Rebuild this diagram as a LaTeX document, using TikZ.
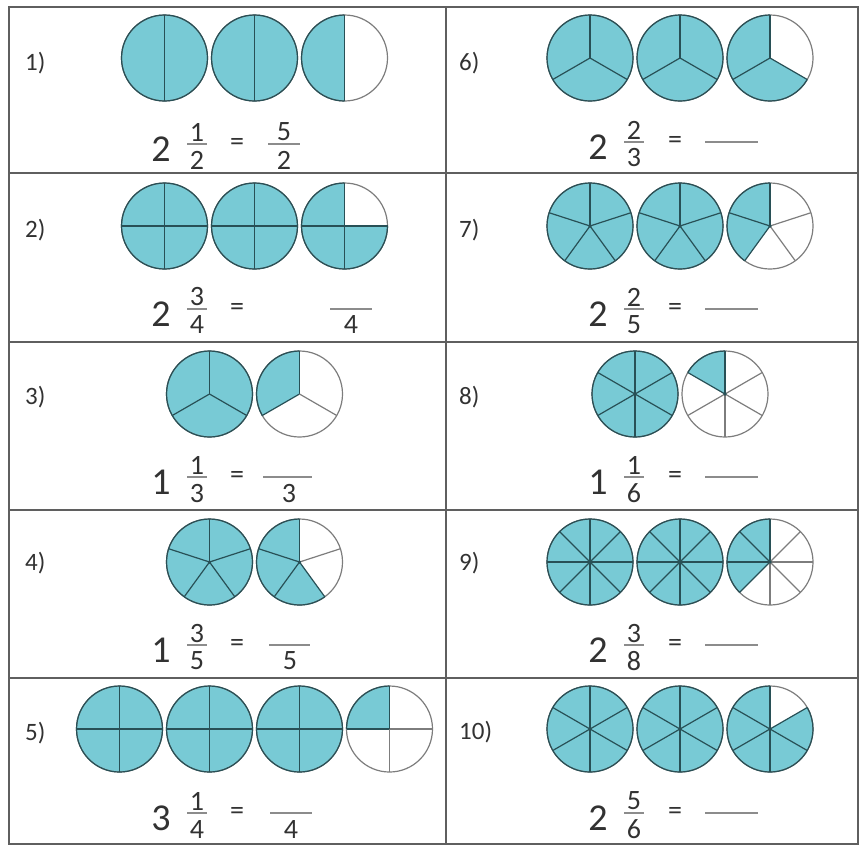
\documentclass[tikz,border=0pt]{standalone}
\usepackage{fontspec}
\setmainfont{Carlito}
\usetikzlibrary{calc}

\definecolor{piefill}{RGB}{120,202,213}
\definecolor{piedark}{RGB}{40,80,86}
\definecolor{pieline}{RGB}{125,125,125}
\definecolor{gridline}{RGB}{95,95,95}
\definecolor{txt}{RGB}{50,50,50}
\definecolor{blank}{RGB}{140,140,140}

\newcommand{\pierad}{43}
% circle at (#1,#2), cut into #3 parts, #4 of them shaded from the top, anticlockwise
\newcommand{\drawpie}[4]{%
  \pgfmathsetmacro{\pend}{90+360*#4/#3}%
  \ifnum#4=#3\relax
    \fill[piefill] (#1,#2) circle[radius=\pierad];
  \else
    \fill[piefill] (#1,#2) -- ++(90:\pierad) arc[start angle=90,end angle=\pend,radius=\pierad] -- cycle;
  \fi
  \draw[pieline, line width=1.2pt] (#1,#2) circle[radius=\pierad];
  \draw[piedark, line width=1.2pt] (#1,#2) ++(90:\pierad) arc[start angle=90,end angle=\pend,radius=\pierad];
  \pgfmathtruncatemacro{\plast}{#3-1}%
  \foreach \i in {0,...,\plast}{%
    \pgfmathsetmacro{\pang}{90+360*\i/#3}%
    \ifnum\i>#4\relax\def\pcol{pieline}\else\def\pcol{piedark}\fi
    \draw[draw=\pcol, line width=1.2pt] (#1,#2) -- ++(\pang:\pierad);
  }%
  \ifnum#3>4\relax\fill[piedark] (#1,#2) circle[radius=1.8];\fi
}

% mixed number: name, x of fraction, y of bar, whole, numerator, denominator
\newcommand{\mixnum}[6]{%
  \node[bignum] (#1-w) at (#2-36,-#3-5) {#4};
  \node[smallnum] (#1-n) at (#2,-#3+12) {#5};
  \node[smallnum] (#1-d) at (#2,-#3-16) {#6};
  \draw[fracbar] (#2-10,-#3) -- (#2+10,-#3);
}

\begin{document}
\begin{tikzpicture}[x=1pt,y=1pt,
    grid/.style={draw=gridline, line width=2pt},
    bignum/.style={font=\fontsize{38}{38}\selectfont, text=txt, inner sep=0pt},
    smallnum/.style={font=\fontsize{28}{28}\selectfont, text=txt, inner sep=0pt},
    qlabel/.style={font=\fontsize{25}{25}\selectfont, text=txt, anchor=west, inner sep=0pt},
    fracbar/.style={draw=blank, line width=1.3pt},
    blankline/.style={draw=blank, line width=1.8pt}
  ]
    \useasboundingbox (0,0) rectangle (861,-847);

    % table
    \draw[grid] (9,-7) rectangle (858,-844);
    \draw[grid] (446,-7) -- (446,-844);
    \foreach \y in {173,342,510,678} {\draw[grid] (9,-\y) -- (858,-\y);}

    % circles, left column
    \foreach \x in {164.5,254.5} {
      \drawpie{\x}{-58}{2}{2}
      \drawpie{\x}{-226}{4}{4}
    }
    \drawpie{344.5}{-58}{2}{1}
    \drawpie{344.5}{-226}{4}{3}
    \drawpie{209.5}{-394}{3}{3}
    \drawpie{299.5}{-394}{3}{1}
    \drawpie{209.5}{-562}{5}{5}
    \drawpie{299.5}{-562}{5}{3}
    \foreach \x in {119.5,209.5,299.5} {\drawpie{\x}{-729}{4}{4}}
    \drawpie{389.5}{-729}{4}{1}

    % circles, right column
    \foreach \x in {590,680} {
      \drawpie{\x}{-58}{3}{3}
      \drawpie{\x}{-226}{5}{5}
      \drawpie{\x}{-562}{8}{8}
      \drawpie{\x}{-729}{6}{6}
    }
    \drawpie{770}{-58}{3}{2}
    \drawpie{770}{-226}{5}{2}
    \drawpie{635}{-394}{6}{6}
    \drawpie{725}{-394}{6}{1}
    \drawpie{770}{-562}{8}{3}
    \drawpie{770}{-729}{6}{5}

    % left column texts
    \node[qlabel] (q1) at (25,-63) {1)};
    \mixnum{e1}{197}{144}{2}{1}{2}
    \node[smallnum] (e1-eq) at (237,-144) {=};
    \node[smallnum] (a1-n) at (284,-132) {5};
    \node[smallnum] (a1-d) at (284,-160) {2};
    \draw[fracbar] (268,-144) -- (300,-144);

    \node[qlabel] (q2) at (25,-230) {2)};
    \mixnum{e2}{197}{309}{2}{3}{4}
    \node[smallnum] (e2-eq) at (237,-309) {=};
    \node[smallnum] (a2-d) at (351,-325) {4};
    \draw[fracbar] (330,-309) -- (372,-309);

    \node[qlabel] (q3) at (25,-397) {3)};
    \mixnum{e3}{197}{477}{1}{1}{3}
    \node[smallnum] (e3-eq) at (237,-477) {=};
    \node[smallnum] (a3-d) at (289,-493) {3};
    \draw[fracbar] (263,-477) -- (312,-477);

    \node[qlabel] (q4) at (25,-563) {4)};
    \mixnum{e4}{197}{645}{1}{3}{5}
    \node[smallnum] (e4-eq) at (237,-645) {=};
    \node[smallnum] (a4-d) at (290,-661) {5};
    \draw[fracbar] (269,-645) -- (310,-645);

    \node[qlabel] (q5) at (25,-733) {5)};
    \mixnum{e5}{197}{813}{3}{1}{4}
    \node[smallnum] (e5-eq) at (237,-813) {=};
    \node[smallnum] (a5-d) at (291,-829) {4};
    \draw[fracbar] (270,-813) -- (312,-813);

    % right column texts
    \foreach \n/\lab/\ly/\by/\w/\nu/\de in {6/6)/63/142/2/2/3, 7/7)/230/309/2/2/5,
        8/8)/397/477/1/1/6, 9/9)/563/645/2/3/8, 10/10)/732/813/2/5/6} {
      \node[qlabel] (q\n) at (459,-\ly) {\lab};
      \mixnum{e\n}{634}{\by}{\w}{\nu}{\de}
      \node[smallnum] (e\n-eq) at (675,-\by) {=};
      \draw[blankline] (705,-\by) -- (758,-\by);
    }
  \end{tikzpicture}
\end{document}
